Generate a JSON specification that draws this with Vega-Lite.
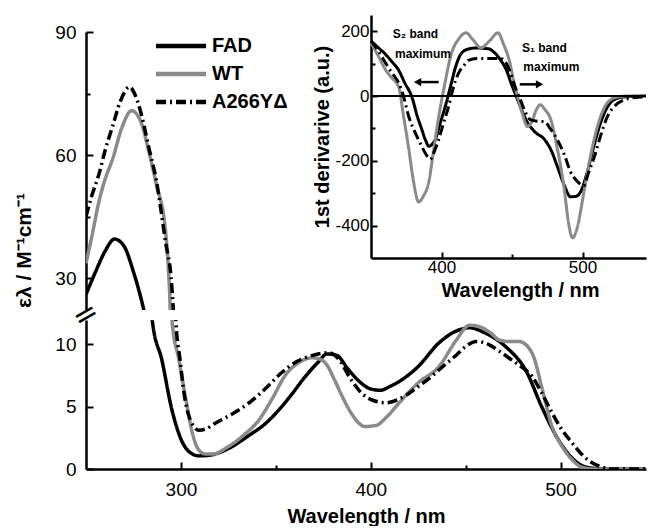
{
 "$schema": "https://vega.github.io/schema/vega-lite/v6.json",
 "background": "white",
 "padding": {"left": 13, "top": 22, "right": 0, "bottom": 0},
 "bounds": "flush",
 "config": {
   "font": "Liberation Sans",
   "view": {"stroke": null},
   "axis": {"domainColor": "black", "domainWidth": 2.5, "tickColor": "black", "tickWidth": 2, "labelColor": "black", "titleColor": "black", "grid": false, "labelFont": "Liberation Sans", "titleFont": "Liberation Sans", "labelFontSize": 19, "titleFontSize": 20, "titleFontWeight": "bold"},
   "concat": {"spacing": 10}
 },
 "datasets": {
  "main": [
   {"series":"FAD","wl":250,"eps":26},{"series":"FAD","wl":255,"eps":31.5},{"series":"FAD","wl":260,"eps":36.5},{"series":"FAD","wl":265,"eps":39.5},{"series":"FAD","wl":270,"eps":37.8},{"series":"FAD","wl":275,"eps":31.5},{"series":"FAD","wl":279,"eps":25},{"series":"FAD","wl":282,"eps":19},{"series":"FAD","wl":285,"eps":11.8},{"series":"FAD","wl":290,"eps":8.7},{"series":"FAD","wl":295,"eps":4.9},{"series":"FAD","wl":300,"eps":2.4},{"series":"FAD","wl":305,"eps":1.3},{"series":"FAD","wl":309.5,"eps":1.05},{"series":"FAD","wl":315,"eps":1.1},{"series":"FAD","wl":320,"eps":1.3},{"series":"FAD","wl":327,"eps":1.8},{"series":"FAD","wl":335,"eps":2.6},{"series":"FAD","wl":345,"eps":3.7},{"series":"FAD","wl":352,"eps":4.8},{"series":"FAD","wl":358.5,"eps":6.0},{"series":"FAD","wl":365,"eps":7.3},{"series":"FAD","wl":372,"eps":8.5},{"series":"FAD","wl":377,"eps":9.2},{"series":"FAD","wl":382,"eps":9.1},{"series":"FAD","wl":388,"eps":8.0},{"series":"FAD","wl":394,"eps":7.0},{"series":"FAD","wl":400,"eps":6.4},{"series":"FAD","wl":405,"eps":6.3},{"series":"FAD","wl":410,"eps":6.6},{"series":"FAD","wl":416,"eps":7.1},{"series":"FAD","wl":425,"eps":8.2},{"series":"FAD","wl":436,"eps":10.1},{"series":"FAD","wl":446,"eps":11.1},{"series":"FAD","wl":452,"eps":11.3},{"series":"FAD","wl":460,"eps":10.9},{"series":"FAD","wl":471,"eps":9.8},{"series":"FAD","wl":482,"eps":7.8},{"series":"FAD","wl":490,"eps":5.0},{"series":"FAD","wl":499,"eps":2.3},{"series":"FAD","wl":508,"eps":0.6},{"series":"FAD","wl":515,"eps":0.1},{"series":"FAD","wl":525,"eps":0},{"series":"FAD","wl":545,"eps":0},
   {"series":"WT","wl":250,"eps":33.6},{"series":"WT","wl":253,"eps":40},{"series":"WT","wl":257,"eps":49},{"series":"WT","wl":260,"eps":54},{"series":"WT","wl":264,"eps":59},{"series":"WT","wl":269,"eps":66.8},{"series":"WT","wl":274,"eps":70.8},{"series":"WT","wl":279,"eps":68},{"series":"WT","wl":283,"eps":61},{"series":"WT","wl":287,"eps":53},{"series":"WT","wl":292,"eps":41},{"series":"WT","wl":294,"eps":27},{"series":"WT","wl":295.3,"eps":11.9},{"series":"WT","wl":299,"eps":8.7},{"series":"WT","wl":302.7,"eps":5.5},{"series":"WT","wl":306,"eps":2.9},{"series":"WT","wl":309.5,"eps":1.5},{"series":"WT","wl":313,"eps":1.2},{"series":"WT","wl":317,"eps":1.2},{"series":"WT","wl":324,"eps":1.7},{"series":"WT","wl":333,"eps":2.7},{"series":"WT","wl":341,"eps":3.9},{"series":"WT","wl":348,"eps":5.6},{"series":"WT","wl":355,"eps":7.5},{"series":"WT","wl":362,"eps":8.5},{"series":"WT","wl":369,"eps":8.9},{"series":"WT","wl":373,"eps":8.8},{"series":"WT","wl":377,"eps":8.3},{"series":"WT","wl":381,"eps":7.1},{"series":"WT","wl":385,"eps":5.8},{"series":"WT","wl":390,"eps":4.4},{"series":"WT","wl":397,"eps":3.4},{"series":"WT","wl":403,"eps":3.5},{"series":"WT","wl":408,"eps":4.1},{"series":"WT","wl":415,"eps":5.3},{"series":"WT","wl":425,"eps":6.9},{"series":"WT","wl":436,"eps":8.2},{"series":"WT","wl":445,"eps":10.3},{"series":"WT","wl":452,"eps":11.5},{"series":"WT","wl":457,"eps":11.4},{"series":"WT","wl":463,"eps":10.9},{"series":"WT","wl":468,"eps":10.3},{"series":"WT","wl":473,"eps":10.2},{"series":"WT","wl":478,"eps":10.2},{"series":"WT","wl":482,"eps":9.9},{"series":"WT","wl":486,"eps":8.9},{"series":"WT","wl":490,"eps":6.6},{"series":"WT","wl":495.5,"eps":3.4},{"series":"WT","wl":500,"eps":2.0},{"series":"WT","wl":503,"eps":1.3},{"series":"WT","wl":507,"eps":0.6},{"series":"WT","wl":511,"eps":0.15},{"series":"WT","wl":518,"eps":0},{"series":"WT","wl":545,"eps":0},
   {"series":"A266YΔ","wl":250,"eps":45},{"series":"A266YΔ","wl":253,"eps":50},{"series":"A266YΔ","wl":257,"eps":55.6},{"series":"A266YΔ","wl":260,"eps":61},{"series":"A266YΔ","wl":264,"eps":67},{"series":"A266YΔ","wl":268,"eps":73},{"series":"A266YΔ","wl":273,"eps":76.6},{"series":"A266YΔ","wl":276,"eps":74.5},{"series":"A266YΔ","wl":279.5,"eps":69.3},{"series":"A266YΔ","wl":283,"eps":62},{"series":"A266YΔ","wl":287,"eps":53.9},{"series":"A266YΔ","wl":292,"eps":38.5},{"series":"A266YΔ","wl":294.8,"eps":30.2},{"series":"A266YΔ","wl":296.2,"eps":21},{"series":"A266YΔ","wl":297.4,"eps":11.7},{"series":"A266YΔ","wl":299.5,"eps":8.8},{"series":"A266YΔ","wl":301.6,"eps":6.1},{"series":"A266YΔ","wl":305,"eps":3.9},{"series":"A266YΔ","wl":309.5,"eps":3.1},{"series":"A266YΔ","wl":313,"eps":3.2},{"series":"A266YΔ","wl":318.5,"eps":3.7},{"series":"A266YΔ","wl":327,"eps":4.4},{"series":"A266YΔ","wl":336,"eps":5.3},{"series":"A266YΔ","wl":345,"eps":6.5},{"series":"A266YΔ","wl":353,"eps":7.7},{"series":"A266YΔ","wl":361,"eps":8.6},{"series":"A266YΔ","wl":367.5,"eps":9.0},{"series":"A266YΔ","wl":374,"eps":9.25},{"series":"A266YΔ","wl":378,"eps":9.3},{"series":"A266YΔ","wl":384,"eps":8.6},{"series":"A266YΔ","wl":388.6,"eps":7.4},{"series":"A266YΔ","wl":395,"eps":6.1},{"series":"A266YΔ","wl":401,"eps":5.5},{"series":"A266YΔ","wl":408,"eps":5.3},{"series":"A266YΔ","wl":418.6,"eps":5.9},{"series":"A266YΔ","wl":425,"eps":6.6},{"series":"A266YΔ","wl":432,"eps":7.4},{"series":"A266YΔ","wl":438,"eps":8.2},{"series":"A266YΔ","wl":445,"eps":9.1},{"series":"A266YΔ","wl":450,"eps":9.8},{"series":"A266YΔ","wl":455.5,"eps":10.2},{"series":"A266YΔ","wl":460,"eps":10.1},{"series":"A266YΔ","wl":464,"eps":9.8},{"series":"A266YΔ","wl":469,"eps":9.3},{"series":"A266YΔ","wl":474.5,"eps":8.7},{"series":"A266YΔ","wl":480,"eps":8.1},{"series":"A266YΔ","wl":485,"eps":7.4},{"series":"A266YΔ","wl":490,"eps":6.1},{"series":"A266YΔ","wl":495.5,"eps":4.5},{"series":"A266YΔ","wl":500,"eps":3.3},{"series":"A266YΔ","wl":506,"eps":2.1},{"series":"A266YΔ","wl":511,"eps":1.2},{"series":"A266YΔ","wl":516.6,"eps":0.5},{"series":"A266YΔ","wl":522,"eps":0.15},{"series":"A266YΔ","wl":527,"eps":0},{"series":"A266YΔ","wl":545,"eps":0}
  ],
  "deriv": [
   {"series":"FAD","wl":350,"d":170},{"series":"FAD","wl":355,"d":150},{"series":"FAD","wl":360,"d":130},{"series":"FAD","wl":365,"d":105},{"series":"FAD","wl":369.7,"d":79},{"series":"FAD","wl":374,"d":40},{"series":"FAD","wl":379,"d":-3},{"series":"FAD","wl":383,"d":-65},{"series":"FAD","wl":386,"d":-103},{"series":"FAD","wl":389,"d":-140},{"series":"FAD","wl":391,"d":-155},{"series":"FAD","wl":393.5,"d":-148},{"series":"FAD","wl":395.6,"d":-134},{"series":"FAD","wl":399,"d":-85},{"series":"FAD","wl":402.6,"d":-33},{"series":"FAD","wl":407,"d":40},{"series":"FAD","wl":410,"d":90},{"series":"FAD","wl":414,"d":131},{"series":"FAD","wl":419,"d":145},{"series":"FAD","wl":424,"d":148},{"series":"FAD","wl":433,"d":146},{"series":"FAD","wl":438,"d":132},{"series":"FAD","wl":442,"d":110},{"series":"FAD","wl":446,"d":80},{"series":"FAD","wl":449.3,"d":40},{"series":"FAD","wl":454,"d":-12},{"series":"FAD","wl":457,"d":-45},{"series":"FAD","wl":461,"d":-82},{"series":"FAD","wl":466,"d":-110},{"series":"FAD","wl":473,"d":-134},{"series":"FAD","wl":478,"d":-170},{"series":"FAD","wl":482,"d":-216},{"series":"FAD","wl":487,"d":-275},{"series":"FAD","wl":491.5,"d":-311},{"series":"FAD","wl":495,"d":-310},{"series":"FAD","wl":498.6,"d":-296},{"series":"FAD","wl":503,"d":-240},{"series":"FAD","wl":508,"d":-155},{"series":"FAD","wl":513,"d":-80},{"series":"FAD","wl":519.7,"d":-21},{"series":"FAD","wl":524,"d":-8},{"series":"FAD","wl":529.6,"d":-3},{"series":"FAD","wl":545,"d":0},
   {"series":"WT","wl":350,"d":165},{"series":"WT","wl":355,"d":125},{"series":"WT","wl":360.6,"d":79},{"series":"WT","wl":365,"d":55},{"series":"WT","wl":369.7,"d":27},{"series":"WT","wl":373,"d":-60},{"series":"WT","wl":376.8,"d":-164},{"series":"WT","wl":380,"d":-260},{"series":"WT","wl":383.8,"d":-327},{"series":"WT","wl":387,"d":-310},{"series":"WT","wl":391,"d":-265},{"series":"WT","wl":394,"d":-180},{"series":"WT","wl":398,"d":-64},{"series":"WT","wl":402,"d":30},{"series":"WT","wl":407,"d":131},{"series":"WT","wl":412,"d":175},{"series":"WT","wl":417.6,"d":195},{"series":"WT","wl":422,"d":175},{"series":"WT","wl":428,"d":149},{"series":"WT","wl":434,"d":170},{"series":"WT","wl":440,"d":195},{"series":"WT","wl":444,"d":160},{"series":"WT","wl":448.6,"d":100},{"series":"WT","wl":451,"d":50},{"series":"WT","wl":454,"d":-3},{"series":"WT","wl":457,"d":-50},{"series":"WT","wl":461,"d":-94},{"series":"WT","wl":464,"d":-80},{"series":"WT","wl":467,"d":-45},{"series":"WT","wl":470,"d":-27},{"series":"WT","wl":473,"d":-40},{"series":"WT","wl":477.5,"d":-73},{"series":"WT","wl":482,"d":-160},{"series":"WT","wl":487,"d":-286},{"series":"WT","wl":490,"d":-390},{"series":"WT","wl":493,"d":-438},{"series":"WT","wl":496,"d":-410},{"series":"WT","wl":501,"d":-296},{"series":"WT","wl":505,"d":-200},{"series":"WT","wl":510.6,"d":-94},{"series":"WT","wl":515,"d":-40},{"series":"WT","wl":519.7,"d":-12},{"series":"WT","wl":525,"d":-3},{"series":"WT","wl":531.7,"d":0},{"series":"WT","wl":545,"d":0},
   {"series":"A266YΔ","wl":350,"d":170},{"series":"A266YΔ","wl":355,"d":140},{"series":"A266YΔ","wl":360.6,"d":100},{"series":"A266YΔ","wl":365,"d":70},{"series":"A266YΔ","wl":369.7,"d":40},{"series":"A266YΔ","wl":373,"d":0},{"series":"A266YΔ","wl":376.8,"d":-64},{"series":"A266YΔ","wl":381,"d":-110},{"series":"A266YΔ","wl":386,"d":-155},{"series":"A266YΔ","wl":389,"d":-180},{"series":"A266YΔ","wl":392,"d":-195},{"series":"A266YΔ","wl":395,"d":-170},{"series":"A266YΔ","wl":398,"d":-134},{"series":"A266YΔ","wl":401,"d":-90},{"series":"A266YΔ","wl":405,"d":-33},{"series":"A266YΔ","wl":408,"d":20},{"series":"A266YΔ","wl":412,"d":70},{"series":"A266YΔ","wl":416,"d":95},{"series":"A266YΔ","wl":419,"d":110},{"series":"A266YΔ","wl":425,"d":116},{"series":"A266YΔ","wl":431,"d":116},{"series":"A266YΔ","wl":442,"d":116},{"series":"A266YΔ","wl":446,"d":100},{"series":"A266YΔ","wl":449,"d":70},{"series":"A266YΔ","wl":452,"d":30},{"series":"A266YΔ","wl":456,"d":-12},{"series":"A266YΔ","wl":459,"d":-45},{"series":"A266YΔ","wl":463,"d":-73},{"series":"A266YΔ","wl":468,"d":-78},{"series":"A266YΔ","wl":473,"d":-79},{"series":"A266YΔ","wl":477,"d":-100},{"series":"A266YΔ","wl":482,"d":-134},{"series":"A266YΔ","wl":487,"d":-180},{"series":"A266YΔ","wl":491.5,"d":-234},{"series":"A266YΔ","wl":496,"d":-262},{"series":"A266YΔ","wl":501,"d":-277},{"series":"A266YΔ","wl":504,"d":-240},{"series":"A266YΔ","wl":508.5,"d":-186},{"series":"A266YΔ","wl":513,"d":-120},{"series":"A266YΔ","wl":517.6,"d":-64},{"series":"A266YΔ","wl":523,"d":-30},{"series":"A266YΔ","wl":529.6,"d":-12},{"series":"A266YΔ","wl":537,"d":-5},{"series":"A266YΔ","wl":545,"d":-3}
  ]
 },
 "vconcat": [
  {
   "width": 560, "height": 278,
   "layer": [
    {
     "data": {"name": "main"},
     "mark": {"type": "line", "strokeWidth": 3.5, "clip": true, "interpolate": "monotone"},
     "encoding": {
      "x": {"field": "wl", "type": "quantitative", "scale": {"domain": [250, 545], "nice": false, "zero": false}, "axis": null},
      "y": {"field": "eps", "type": "quantitative", "scale": {"domain": [22.2, 90], "nice": false, "zero": false},
            "axis": {"values": [30, 45, 60, 75, 90], "labelExpr": "datum.value % 30 == 0 ? datum.label : ''", "tickSize": {"condition": {"test": "datum.value % 30 == 0", "value": -7}, "value": -4}, "labelPadding": 17, "title": "ελ / M⁻¹cm⁻¹", "titleY": 218, "titlePadding": 20, "titleFontSize": 21}},
      "color": {"field": "series", "type": "nominal", "scale": {"domain": ["FAD", "WT", "A266YΔ"], "range": ["#000000", "#8a8a8a", "#000000"]},
                "legend": {"orient": "none", "legendX": 85, "legendY": 4, "title": null, "symbolType": "M-5,0L5,0", "symbolSize": 100, "symbolStrokeWidth": 4.5, "labelFontSize": 20, "labelFontWeight": "bold", "labelFont": "Liberation Sans", "labelColor": "black", "labelOffset": 21, "rowPadding": 8}},
      "strokeDash": {"field": "series", "type": "nominal", "scale": {"domain": ["FAD", "WT", "A266YΔ"], "range": [[1, 0], [1, 0], [10, 4, 2, 4]]},
                "legend": {"orient": "none", "legendX": 85, "legendY": 4, "title": null, "symbolType": "M-5,0L5,0", "symbolSize": 100, "symbolStrokeWidth": 4.5, "labelFontSize": 20, "labelFontWeight": "bold", "labelFont": "Liberation Sans", "labelColor": "black", "labelOffset": 21, "rowPadding": 8}}
     }
    },
    {
     "layer": [
      {
       "data": {"name": "deriv"},
       "mark": {"type": "line", "strokeWidth": 3, "interpolate": "monotone"},
       "encoding": {
        "x": {"field": "wl", "type": "quantitative", "scale": {"domain": [350, 545], "range": [285, 560], "nice": false, "zero": false},
              "axis": {"orient": "bottom", "offset": -52, "values": [400, 450, 500], "labelExpr": "datum.value % 100 == 0 ? datum.label : ''", "tickSize": {"condition": {"test": "datum.value % 100 == 0", "value": -6}, "value": -4}, "labelPadding": 7, "labelFontSize": 17, "title": "Wavelength / nm", "titleX": 434, "titlePadding": 5}},
        "y": {"field": "d", "type": "quantitative", "scale": {"domain": [-500, 250], "range": [226, -17], "nice": false, "zero": false},
              "axis": {"orient": "left", "offset": -285, "values": [-400, -300, -200, -100, 0, 100, 200], "labelExpr": "datum.value % 200 == 0 ? '' + datum.value : ''", "tickSize": {"condition": {"test": "datum.value % 200 == 0", "value": -6}, "value": -4}, "labelPadding": 8, "labelFontSize": 17, "title": "1st derivarive (a.u.)", "titlePadding": 2}},
        "color": {"field": "series", "type": "nominal"},
        "strokeDash": {"field": "series", "type": "nominal"}
       }
      },
      {
       "data": {"values": [{"wl": 350, "wl2": 545, "d": 0}]},
       "mark": {"type": "rule", "strokeWidth": 2, "color": "black"},
       "encoding": {"x": {"field": "wl", "type": "quantitative"}, "x2": {"field": "wl2"}, "y": {"field": "d", "type": "quantitative"}}
      },
      {
       "data": {"values": [{"wl": 365.5, "d": 192, "t": "S₂ band"}, {"wl": 367, "d": 131, "t": "maximum"}, {"wl": 457, "d": 149, "t": "S₁ band"}, {"wl": 458, "d": 88, "t": "maximum"}]},
       "mark": {"type": "text", "align": "left", "baseline": "middle", "fontSize": 12, "fontWeight": "bold", "color": "black"},
       "encoding": {"x": {"field": "wl", "type": "quantitative"}, "y": {"field": "d", "type": "quantitative"}, "text": {"field": "t"}}
      },
      {
       "data": {"values": [{"wl": 398, "wl2": 385, "d": 43}, {"wl": 455.5, "wl2": 467.5, "d": 36}]},
       "mark": {"type": "rule", "strokeWidth": 2.5, "color": "black"},
       "encoding": {"x": {"field": "wl", "type": "quantitative"}, "x2": {"field": "wl2"}, "y": {"field": "d", "type": "quantitative"}}
      },
      {
       "data": {"values": [{"wl": 383, "d": 43, "s": "triangle-left"}, {"wl": 469.5, "d": 36, "s": "triangle-right"}]},
       "mark": {"type": "point", "filled": true, "size": 70, "color": "black", "opacity": 1},
       "encoding": {"x": {"field": "wl", "type": "quantitative"}, "y": {"field": "d", "type": "quantitative"}, "shape": {"field": "s", "type": "nominal", "scale": null}}
      }
     ]
    }
   ],
   "resolve": {"scale": {"x": "independent", "y": "independent"}}
  },
  {
   "width": 560, "height": 149,
   "layer": [
    {
     "data": {"name": "main"},
     "mark": {"type": "line", "strokeWidth": 3.5, "clip": true, "interpolate": "monotone"},
     "encoding": {
      "x": {"field": "wl", "type": "quantitative", "scale": {"domain": [250, 545], "nice": false, "zero": false},
            "axis": {"values": [300, 350, 400, 450, 500], "labelExpr": "datum.value % 100 == 0 ? datum.label : ''", "tickSize": {"condition": {"test": "datum.value % 100 == 0", "value": -7}, "value": -4}, "labelPadding": 18, "title": "Wavelength / nm", "titlePadding": 7}},
      "y": {"field": "eps", "type": "quantitative", "scale": {"domain": [0, 11.92], "nice": false, "zero": false},
            "axis": {"values": [0, 2.5, 5, 7.5, 10], "labelExpr": "datum.value % 5 == 0 ? datum.label : ''", "tickSize": {"condition": {"test": "datum.value % 5 == 0", "value": -7}, "value": -4}, "labelPadding": 17, "title": null}},
      "color": {"field": "series", "type": "nominal"},
      "strokeDash": {"field": "series", "type": "nominal"}
     }
    },
    {
     "data": {"values": [{"wl": 250, "eps": 12.3}]},
     "mark": {"type": "text", "text": "=", "angle": -30, "fontSize": 30, "font": "DejaVu Sans", "baseline": "middle", "align": "center", "color": "black"},
     "encoding": {"x": {"field": "wl", "type": "quantitative"}, "y": {"field": "eps", "type": "quantitative"}}
    }
   ]
  }
 ]
}
